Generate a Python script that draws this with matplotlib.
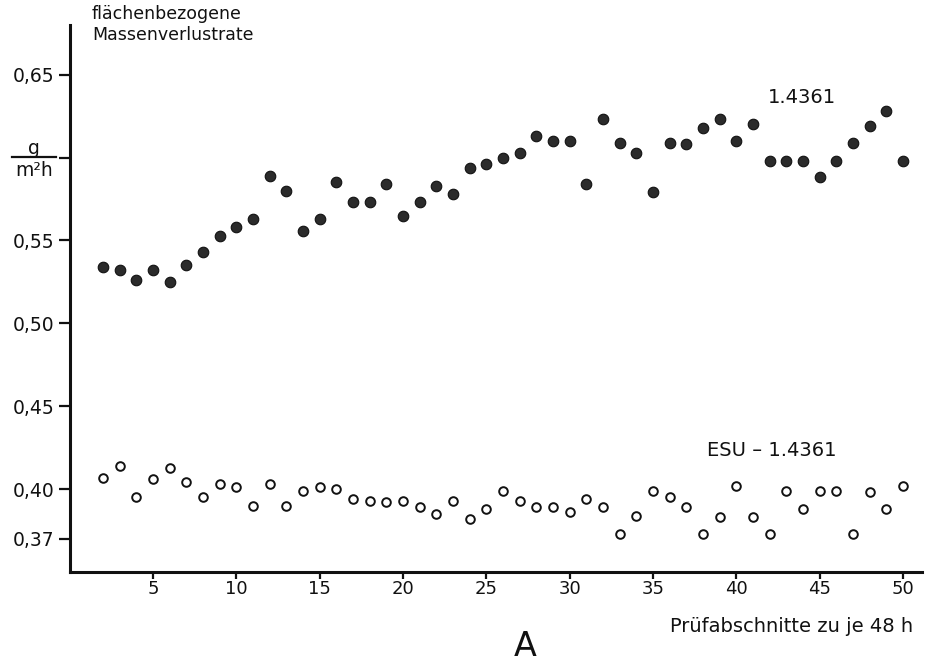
import matplotlib
matplotlib.use("Agg")
import matplotlib.pyplot as plt
from matplotlib.lines import Line2D

plt.rcParams["font.family"] = ["DejaVu Sans"]

# Test section number (each section = 48 h)
sections = list(range(2, 51))

# Area-related mass loss rate, g/(m^2 h)
rate_14361 = [0.534, 0.532, 0.526, 0.532, 0.525, 0.535, 0.543, 0.553, 0.558, 0.563,
              0.589, 0.580, 0.556, 0.563, 0.585, 0.573, 0.573, 0.584, 0.565, 0.573,
              0.583, 0.578, 0.594, 0.596, 0.600, 0.603, 0.613, 0.610, 0.610, 0.584,
              0.623, 0.609, 0.603, 0.579, 0.609, 0.608, 0.618, 0.623, 0.610, 0.620,
              0.598, 0.598, 0.598, 0.588, 0.598, 0.609, 0.619, 0.628, 0.598]

rate_esu = [0.407, 0.414, 0.395, 0.406, 0.413, 0.404, 0.395, 0.403, 0.401, 0.390,
            0.403, 0.390, 0.399, 0.401, 0.400, 0.394, 0.393, 0.392, 0.393, 0.389,
            0.385, 0.393, 0.382, 0.388, 0.399, 0.393, 0.389, 0.389, 0.386, 0.394,
            0.389, 0.373, 0.384, 0.399, 0.395, 0.389, 0.373, 0.383, 0.402, 0.383,
            0.373, 0.399, 0.388, 0.399, 0.399, 0.373, 0.398, 0.388, 0.402]

x_ticks = [5, 10, 15, 20, 25, 30, 35, 40, 45, 50]
y_ticks = [0.37, 0.40, 0.45, 0.50, 0.55, 0.60, 0.65]
y_ticklabels = ["0,37", "0,40", "0,45", "0,50", "0,55", "", "0,65"]

W, H = 926, 663
fig = plt.figure(figsize=(W / 100, H / 100), dpi=100)

left_px, right_px, top_px, bottom_px = 69.7, 922, 25, 572
ax = fig.add_axes([left_px / W, 1 - bottom_px / H,
                   (right_px - left_px) / W, (bottom_px - top_px) / H])

ax.plot(sections, rate_14361, linestyle="none", marker="o", markersize=7.6,
        markerfacecolor="#2b2b2b", markeredgecolor="#111111", markeredgewidth=0.8)
ax.plot(sections, rate_esu, linestyle="none", marker="o", markersize=6.2,
        markerfacecolor="white", markeredgecolor="#111111", markeredgewidth=1.4)

ax.set_xlim(0, 51.13)
ax.set_ylim(0.35, 0.68)

for side in ("top", "right"):
    ax.spines[side].set_visible(False)
for side in ("left", "bottom"):
    ax.spines[side].set_linewidth(2.2)
    ax.spines[side].set_color("#111111")

ax.set_xticks(x_ticks)
ax.set_xticklabels([str(v) for v in x_ticks])
ax.set_yticks(y_ticks)
ax.set_yticklabels(y_ticklabels)
ax.tick_params(axis="y", direction="out", length=8, width=1.6, pad=3,
               labelsize=13.5, colors="#111111")
ax.tick_params(axis="x", direction="out", length=5, width=1.6, pad=1,
               labelsize=13, colors="#111111")

# series labels
ax.text(43.9, 0.636, "1.4361", ha="center", va="center", fontsize=14, color="#111111")
ax.text(42.1, 0.4234, "ESU \u2013 1.4361", ha="center", va="center", fontsize=14,
        color="#111111")

# axis titles
fig.text(92 / W, 1 - 5 / H, "flächenbezogene", ha="left", va="top",
         fontsize=12.5, color="#111111")
fig.text(92 / W, 1 - 26 / H, "Massenverlustrate", ha="left", va="top",
         fontsize=12.5, color="#111111")
fig.text(913 / W, 1 - 627 / H, "Prüfabschnitte zu je 48 h", ha="right", va="center",
         fontsize=14, color="#111111")
fig.text(525 / W, 1 - 646 / H, "A", ha="center", va="center", fontsize=24,
         color="#111111")

# unit label at the 0.60 tick: g / (m² h)
fig.text(34 / W, 1 - 148 / H, "g", ha="center", va="center", fontsize=13.5,
         color="#111111")
fig.add_artist(Line2D([12 / W, 56 / W], [1 - 157 / H, 1 - 157 / H],
                      transform=fig.transFigure, color="#111111", linewidth=1.6))
fig.text(34 / W, 1 - 170 / H, "m\u00b2h", ha="center", va="center", fontsize=13.5,
         color="#111111")

fig.savefig("out.png", dpi=100, facecolor="white")
